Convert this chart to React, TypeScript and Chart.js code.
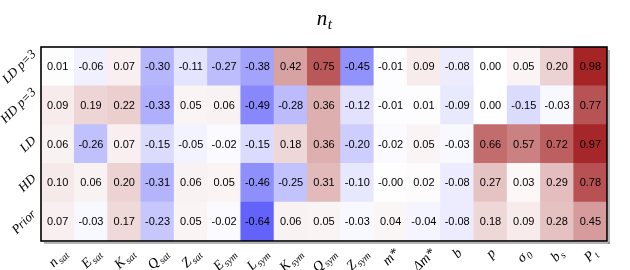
import React, { useEffect, useRef } from 'react';
import { Chart, registerables } from 'chart.js';

Chart.register(...registerables);

const titleBase = 'n';
const titleSub = 't';

const rowLabels = ['LD p=3', 'HD p=3', 'LD', 'HD', 'Prior'];

const colBase = ['n', 'E', 'K', 'Q', 'Z', 'E', 'L', 'K', 'Q', 'Z', 'm*', 'Δm*', 'b', 'p', 'σ', 'b', 'P'];
const colSub = ['sat', 'sat', 'sat', 'sat', 'sat', 'sym', 'sym', 'sym', 'sym', 'sym', '', '', '', '', '0', 's', 't'];

const rowLDp3 = [0.01, -0.06, 0.07, -0.30, -0.11, -0.27, -0.38, 0.42, 0.75, -0.45, -0.01, 0.09, -0.08, 0.00, 0.05, 0.20, 0.98];
const rowHDp3 = [0.09, 0.19, 0.22, -0.33, 0.05, 0.06, -0.49, -0.28, 0.36, -0.12, -0.01, 0.01, -0.09, 0.00, -0.15, -0.03, 0.77];
const rowLD = [0.06, -0.26, 0.07, -0.15, -0.05, -0.02, -0.15, 0.18, 0.36, -0.20, -0.02, 0.05, -0.03, 0.66, 0.57, 0.72, 0.97];
const rowHD = [0.10, 0.06, 0.20, -0.31, 0.06, 0.05, -0.46, -0.25, 0.31, -0.10, -0.004, 0.02, -0.08, 0.27, 0.03, 0.29, 0.78];
const rowPrior = [0.07, -0.03, 0.17, -0.23, 0.05, -0.02, -0.64, 0.06, 0.05, -0.03, 0.04, -0.04, -0.08, 0.18, 0.09, 0.28, 0.45];

const matrix = [rowLDp3, rowHDp3, rowLD, rowHD, rowPrior];

const RED = [163, 32, 34];
const BLUE = [12, 12, 248];

function cellColor(v: number): string {
  const t = Math.min(1, Math.abs(v));
  const end = v >= 0 ? RED : BLUE;
  const c = end.map((e) => Math.round(255 + (e - 255) * t));
  return `rgb(${c[0]},${c[1]},${c[2]})`;
}

const SERIF = '"Liberation Serif", "DejaVu Serif", serif';
const SANS = '"Liberation Sans", Arial, sans-serif';

function drawRotatedLabel(
  ctx: CanvasRenderingContext2D,
  base: string,
  sub: string,
  size: number,
  subSize: number,
  anchor: 'bottom' | 'left',
  ax: number,
  ay: number,
  pad: number
) {
  ctx.font = `italic ${size}px ${SERIF}`;
  const bw = ctx.measureText(base).width;
  ctx.font = `italic ${subSize}px ${SERIF}`;
  const sw = sub ? ctx.measureText(sub).width + 1 : 0;
  const W = bw + sw;
  const H = size * 0.95;
  const bb = (W + H) * Math.SQRT1_2;
  let cx: number;
  let cy: number;
  if (anchor === 'bottom') {
    cx = ax;
    cy = ay + pad + bb / 2;
  } else {
    cx = ax - pad - bb / 2;
    cy = ay;
  }
  ctx.save();
  ctx.translate(cx, cy);
  ctx.rotate(-Math.PI / 4);
  ctx.fillStyle = '#000';
  ctx.textAlign = 'left';
  ctx.textBaseline = 'alphabetic';
  const baseY = size * 0.32;
  ctx.font = `italic ${size}px ${SERIF}`;
  ctx.fillText(base, -W / 2, baseY);
  if (sub) {
    ctx.font = `italic ${subSize}px ${SERIF}`;
    ctx.fillText(sub, -W / 2 + bw + 1, baseY + size * 0.22);
  }
  ctx.restore();
}

export default function App() {
  const ref = useRef<HTMLCanvasElement>(null);

  useEffect(() => {
    if (!ref.current) return;
    const rowsBottomUp = [...matrix].reverse();
    const labelsBottomUp = [...rowLabels].reverse();
    const datasets = rowsBottomUp.map((row, i) => ({
      label: labelsBottomUp[i],
      data: row.map(() => 1),
      backgroundColor: row.map(cellColor),
      borderWidth: 0,
      barPercentage: 1,
      categoryPercentage: 1,
      stack: 'cells',
    }));

    const overlay = {
      id: 'overlay',
      afterDatasetsDraw(chart: any) {
        const ctx: CanvasRenderingContext2D = chart.ctx;
        ctx.save();
        ctx.font = `11px ${SANS}`;
        ctx.fillStyle = '#000';
        ctx.textAlign = 'center';
        ctx.textBaseline = 'middle';
        rowsBottomUp.forEach((row, di) => {
          const meta = chart.getDatasetMeta(di);
          meta.data.forEach((el: any, j: number) => {
            const y = (el.y + el.base) / 2;
            ctx.fillText(row[j].toFixed(2), el.x, y + 0.5);
          });
        });
        ctx.restore();
      },
      afterDraw(chart: any) {
        const ctx: CanvasRenderingContext2D = chart.ctx;
        const a = chart.chartArea;
        const xs = chart.scales.x;
        const ys = chart.scales.y;
        ctx.save();
        // shadow
        ctx.fillStyle = 'rgba(120,120,120,0.55)';
        ctx.fillRect(a.right + 1, a.top + 3, 2, a.bottom - a.top);
        ctx.fillRect(a.left + 3, a.bottom + 1, a.right - a.left, 2);
        // frame
        ctx.strokeStyle = '#000';
        ctx.lineWidth = 1.6;
        ctx.strokeRect(a.left, a.top, a.right - a.left, a.bottom - a.top);
        ctx.restore();

        // column labels
        colBase.forEach((b, i) => {
          const x = xs.getPixelForValue(i);
          drawRotatedLabel(ctx, b, colSub[i], 14, 10, 'bottom', x, a.bottom, 5);
        });
        // row labels
        rowLabels.forEach((lab, r) => {
          const y = ys.getPixelForValue(matrix.length - r - 0.5);
          drawRotatedLabel(ctx, lab, '', 13, 10, 'left', a.left, y, 3);
        });
        // title
        ctx.save();
        ctx.fillStyle = '#000';
        ctx.textBaseline = 'alphabetic';
        ctx.textAlign = 'left';
        ctx.font = `italic 21px ${SERIF}`;
        const tw = ctx.measureText(titleBase).width;
        ctx.font = `italic 15px ${SERIF}`;
        const sw = ctx.measureText(titleSub).width;
        const cx = (a.left + a.right) / 2;
        const x0 = cx - (tw + sw) / 2;
        ctx.font = `italic 21px ${SERIF}`;
        ctx.fillText(titleBase, x0, 25);
        ctx.font = `italic 15px ${SERIF}`;
        ctx.fillText(titleSub, x0 + tw + 0.5, 29);
        ctx.restore();
      },
    };

    const chart = new Chart(ref.current, {
      type: 'bar',
      data: { labels: colBase.map((b, i) => b + colSub[i]), datasets },
      options: {
        animation: false,
        responsive: false,
        maintainAspectRatio: false,
        layout: { padding: { left: 41, right: 23, top: 47, bottom: 29 } },
        plugins: { legend: { display: false }, tooltip: { enabled: false }, title: { display: false } },
        scales: {
          x: { display: false, stacked: true, offset: true, grid: { display: false } },
          y: { display: false, stacked: true, min: 0, max: matrix.length, grid: { display: false } },
        },
      },
      plugins: [overlay],
    });
    return () => chart.destroy();
  }, []);

  return (
    <div style={{ position: 'absolute', left: 0, top: 0, width: 630, height: 270, background: '#fff' }}>
      <canvas ref={ref} width={630} height={270} style={{ width: 630, height: 270 }} />
    </div>
  );
}
